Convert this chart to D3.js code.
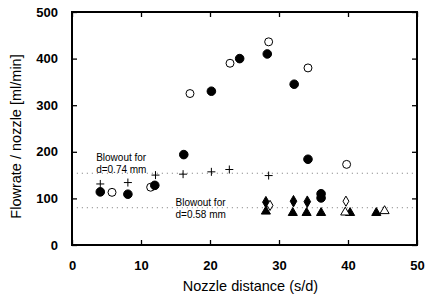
<!DOCTYPE html>
<html>
<head>
<meta charset="utf-8">
<script src="https://cdn.jsdelivr.net/npm/d3@7"></script>
<style>
  body { margin: 0; background: #fff; }
  svg { display: block; font-family: "Liberation Sans", Arial, sans-serif; }
</style>
</head>
<body>
<script>
// data: [nozzle distance s/d, flowrate ml/min]
const filledCircles = [[4.1, 114], [8.1, 109], [12.0, 128], [16.2, 194], [20.2, 330],
  [24.3, 400], [28.3, 410], [32.2, 345], [34.2, 184], [36.1, 110], [36.1, 101]];
const openCircles = [[5.8, 113], [11.4, 124], [17.1, 325], [22.9, 390], [28.5, 436],
  [34.2, 380], [39.8, 173]];
const crosses = [[4.1, 131], [8.1, 134], [12.1, 150], [16.1, 152], [20.2, 157],
  [22.8, 162], [28.5, 149]];
const filledDiamonds = [[28.1, 92], [32.1, 94], [34.1, 93]];
const openDiamonds = [[28.7, 85], [39.7, 94]];
const filledTriangles = [[28.1, 72], [32.0, 69], [34.0, 69], [36.1, 69], [40.3, 69], [44.1, 69]];
const openTriangles = [[39.6, 70], [45.3, 73]];
const blowout = [
  { value: 154, lines: ['Blowout for', 'd=0.74 mm'], at: 3.5, dy: -12 },
  { value: 80, lines: ['Blowout for', 'd=0.58 mm'], at: 15.0, dy: -2 },
];
const xTicks = [0, 10, 20, 30, 40, 50];
const yTicks = [0, 100, 200, 300, 400, 500];

const W = 433;
const H = 297;
const margin = { top: 12, right: 16, bottom: 52, left: 72 };
const width = W - margin.left - margin.right;
const height = H - margin.top - margin.bottom;

const svg = d3.select('body').append('svg')
  .attr('width', W)
  .attr('height', H);

const g = svg.append('g')
  .attr('transform', `translate(${margin.left},${margin.top})`);

const x = d3.scaleLinear().domain([0, 50]).range([0, width]);
const y = d3.scaleLinear().domain([0, 500]).range([height, 0]);

// axes: labels on bottom / left, inward ticks on all four sides
const styleAxis = (sel) => {
  sel.select('.domain').remove();
  sel.selectAll('line').attr('stroke', '#000').attr('stroke-width', 1.3);
  sel.selectAll('text').attr('fill', '#000').style('font-weight', 'bold').style('font-size', '13px');
};
g.append('g').attr('transform', `translate(0,${height})`)
  .call(d3.axisBottom(x).tickValues(xTicks).tickSizeInner(-5).tickPadding(16))
  .call(styleAxis);
g.append('g')
  .call(d3.axisLeft(y).tickValues(yTicks).tickSizeInner(-5).tickPadding(14))
  .call(styleAxis);
g.append('g')
  .call(d3.axisTop(x).tickValues(xTicks).tickSizeInner(-5).tickFormat(''))
  .call(styleAxis);
g.append('g').attr('transform', `translate(${width},0)`)
  .call(d3.axisRight(y).tickValues(yTicks).tickSizeInner(-5).tickFormat(''))
  .call(styleAxis);

g.append('rect')
  .attr('width', width)
  .attr('height', height)
  .attr('fill', 'none')
  .attr('stroke', '#000')
  .attr('stroke-width', 2);

// blowout limits
blowout.forEach((b) => {
  g.append('line')
    .attr('x1', x(0.7)).attr('x2', x(49.6))
    .attr('y1', y(b.value)).attr('y2', y(b.value))
    .attr('stroke', '#777')
    .attr('stroke-width', 1)
    .attr('stroke-dasharray', '1,4');
  const t = g.append('text')
    .attr('x', x(b.at))
    .attr('y', y(b.value) + b.dy)
    .style('font-size', '10px')
    .attr('fill', '#000');
  b.lines.forEach((l, i) => {
    t.append('tspan').attr('x', x(b.at)).attr('dy', i === 0 ? 0 : 12).text(l);
  });
});

// markers
const drawSymbols = (data, type, size, filled) => {
  g.selectAll(null).data(data).enter().append('path')
    .attr('transform', d => `translate(${x(d[0])},${y(d[1])})`)
    .attr('d', d3.symbol().type(type).size(size)())
    .attr('fill', filled ? '#000' : '#fff')
    .attr('stroke', '#000')
    .attr('stroke-width', 1);
};
drawSymbols(openCircles, d3.symbolCircle, 50, false);
drawSymbols(filledCircles, d3.symbolCircle, 58, true);
drawSymbols(filledDiamonds, d3.symbolDiamond, 38, true);
drawSymbols(openDiamonds, d3.symbolDiamond, 30, false);
drawSymbols(filledTriangles, d3.symbolTriangle, 36, true);
drawSymbols(openTriangles, d3.symbolTriangle, 36, false);

// crosses as thin plus signs
g.selectAll(null).data(crosses).enter().append('path')
  .attr('transform', d => `translate(${x(d[0])},${y(d[1])})`)
  .attr('d', 'M-4,0H4M0,-4V4')
  .attr('stroke', '#000')
  .attr('stroke-width', 1);

// axis titles
svg.append('text')
  .attr('x', margin.left + width / 2 + 6)
  .attr('y', 291)
  .attr('text-anchor', 'middle')
  .style('font-size', '14.5px')
  .text('Nozzle distance (s/d)');
svg.append('text')
  .attr('transform', `translate(21,${margin.top + height / 2 + 8}) rotate(-90)`)
  .attr('text-anchor', 'middle')
  .style('font-size', '14.5px')
  .text('Flowrate / nozzle [ml/min]');
</script>
</body>
</html>
